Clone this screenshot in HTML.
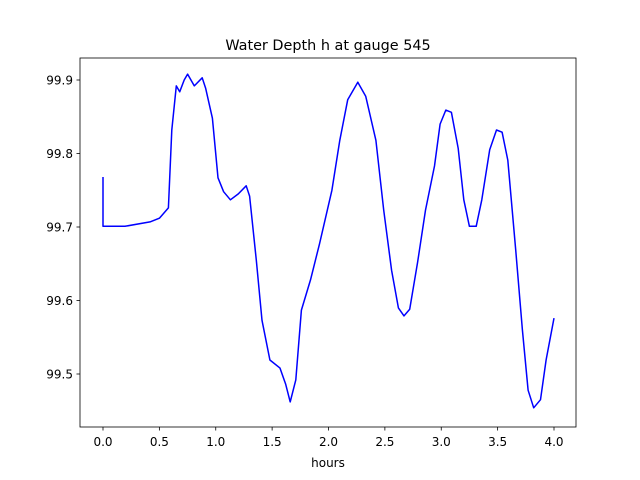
<!DOCTYPE html>
<html><head><meta charset="utf-8"><style>
body{margin:0;background:#fff;}
svg{display:block;font-family:"DejaVu Sans","Liberation Sans",sans-serif;}
</style></head><body>
<svg id="chart" width="640" height="480">
<rect x="0" y="0" width="640" height="480" fill="#fff"/>
<text x="328" y="50" text-anchor="middle" font-size="14.4">Water Depth h at gauge 545</text>
<g id="xt"></g>
<g id="yt"></g>
<polyline id="line" fill="none" stroke="#0000ff" stroke-width="1.5" stroke-linejoin="round"/>
<rect x="80" y="58" width="496" height="369" fill="none" stroke="#000" stroke-width="0.8"/>
<text x="328" y="467" text-anchor="middle" font-size="12">hours</text>
</svg>
<script>
const hours=[0,0,0.195,0.417,0.5,0.58,0.61,0.65,0.68,0.72,0.75,0.81,0.88,0.91,0.97,1.02,1.07,1.13,1.2,1.27,1.30,1.36,1.41,1.48,1.57,1.62,1.66,1.71,1.76,1.84,1.92,2.03,2.10,2.17,2.26,2.33,2.42,2.49,2.56,2.62,2.67,2.72,2.79,2.86,2.94,2.99,3.04,3.09,3.15,3.20,3.25,3.31,3.36,3.43,3.49,3.54,3.59,3.66,3.72,3.77,3.82,3.88,3.93,4.0];
const depth=[99.768,99.701,99.701,99.707,99.712,99.726,99.832,99.892,99.884,99.900,99.908,99.892,99.903,99.889,99.848,99.767,99.748,99.737,99.745,99.756,99.742,99.655,99.573,99.519,99.508,99.486,99.462,99.492,99.587,99.628,99.677,99.750,99.818,99.873,99.897,99.878,99.818,99.723,99.641,99.590,99.579,99.588,99.652,99.723,99.783,99.840,99.859,99.856,99.807,99.737,99.701,99.701,99.737,99.805,99.832,99.829,99.791,99.669,99.560,99.478,99.454,99.465,99.519,99.576];
const xTicks=[0,0.5,1,1.5,2,2.5,3,3.5,4];
const xLabels=["0.0","0.5","1.0","1.5","2.0","2.5","3.0","3.5","4.0"];
const yTicks=[99.5,99.6,99.7,99.8,99.9];
const yLabels=["99.5","99.6","99.7","99.8","99.9"];
const NS="http://www.w3.org/2000/svg";
function xs(v){return 103+v*112.75;}
function ys(v){return 80+(99.9-v)*735;}
const xt=document.getElementById('xt'),yt=document.getElementById('yt');
xTicks.forEach((t,i)=>{
 const l=document.createElementNS(NS,'line');
 
 
 l.setAttribute('x1',xs(t));l.setAttribute('x2',xs(t));l.setAttribute('y1',427);l.setAttribute('y2',430.5);l.setAttribute('stroke','#000');l.setAttribute('stroke-width','0.8');
 xt.appendChild(l);
 const tx=document.createElementNS(NS,'text');
 
 
 tx.setAttribute('x',xs(t));tx.setAttribute('y',446);tx.setAttribute('text-anchor','middle');tx.setAttribute('font-size','12');
 tx.textContent=xLabels[i];xt.appendChild(tx);
});
yTicks.forEach((t,i)=>{
 const l=document.createElementNS(NS,'line');
 
 
 l.setAttribute('x1',76.5);l.setAttribute('x2',80);l.setAttribute('y1',ys(t));l.setAttribute('y2',ys(t));l.setAttribute('stroke','#000');l.setAttribute('stroke-width','0.8');
 yt.appendChild(l);
 const tx=document.createElementNS(NS,'text');
 
 
 tx.setAttribute('x',73);tx.setAttribute('y',ys(t)+4.5);tx.setAttribute('text-anchor','end');tx.setAttribute('font-size','12');
 tx.textContent=yLabels[i];yt.appendChild(tx);
});
document.getElementById('line').setAttribute('points',hours.map((h,i)=>xs(h).toFixed(1)+','+ys(depth[i]).toFixed(1)).join(' '));
</script>
</body></html>
